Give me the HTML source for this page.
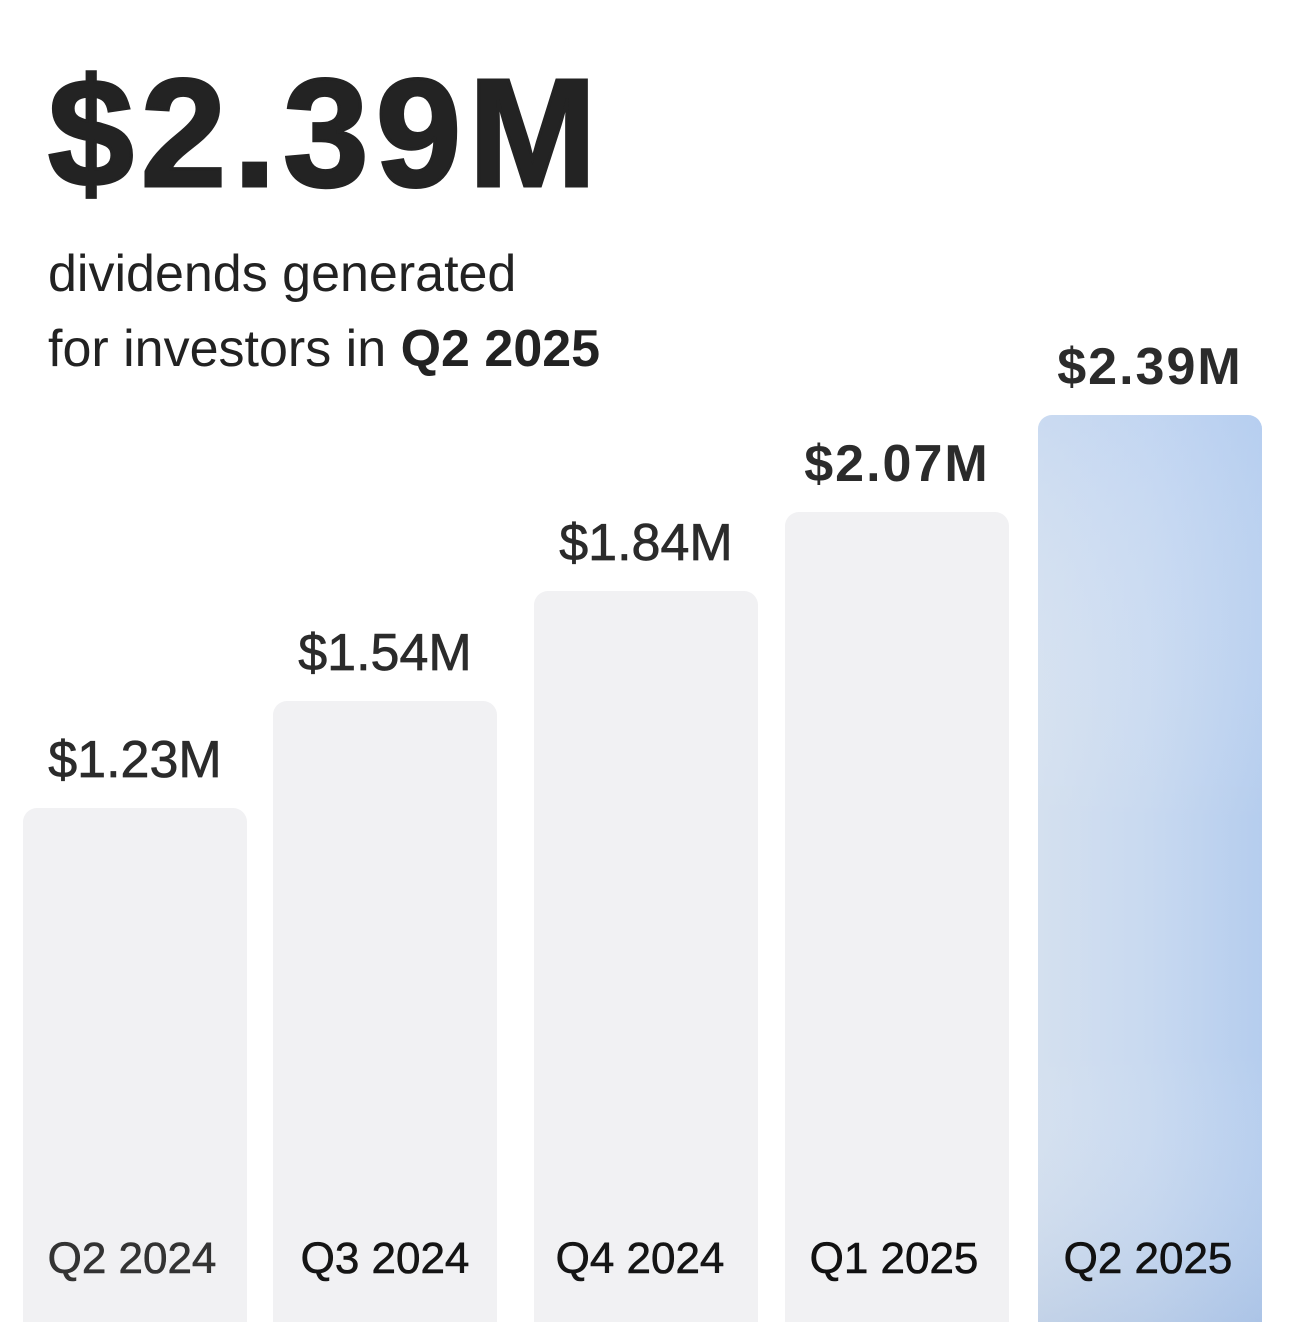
<!DOCTYPE html>
<html>
<head>
<meta charset="utf-8">
<style>
  html, body { margin:0; padding:0; background:#ffffff; }
  body { width:1290px; height:1322px; overflow:hidden; }
  svg { display:block; }
  text { font-family: "Liberation Sans", Arial, sans-serif; }
</style>
</head>
<body>
<svg width="1290" height="1322" viewBox="0 0 1290 1322" xmlns="http://www.w3.org/2000/svg">
  <defs>
    <linearGradient id="gh" x1="0" y1="0" x2="1" y2="0">
      <stop offset="0" stop-color="#d4e0ef"/>
      <stop offset="0.5" stop-color="#c8d9f0"/>
      <stop offset="1" stop-color="#b5cdee"/>
    </linearGradient>
    <linearGradient id="gv" gradientUnits="userSpaceOnUse" x1="0" y1="415" x2="0" y2="1322">
      <stop offset="0" stop-color="#b8d0f4" stop-opacity="0.35"/>
      <stop offset="0.45" stop-color="#ffffff" stop-opacity="0"/>
      <stop offset="0.7" stop-color="#ffffff" stop-opacity="0"/>
      <stop offset="1" stop-color="#8fa9d0" stop-opacity="0.25"/>
    </linearGradient>
  </defs>

  <rect width="1290" height="1322" fill="#ffffff"/>

  <!-- Title -->
  <text x="48" y="186" font-size="154" font-weight="700" fill="#232323" stroke="#232323" stroke-width="3" letter-spacing="7">$2.39M</text>

  <!-- Subtitle -->
  <text x="48" y="291" font-size="52" fill="#222222">dividends generated</text>
  <text x="48" y="366" font-size="52" fill="#222222">for investors in <tspan font-weight="700">Q2 2025</tspan></text>

  <!-- Bars -->
  <rect x="23" y="808" width="224" height="540" rx="14" fill="#f1f1f3"/>
  <rect x="273" y="701" width="224" height="650" rx="14" fill="#f1f1f3"/>
  <rect x="534" y="591" width="224" height="760" rx="14" fill="#f1f1f3"/>
  <rect x="785" y="512" width="224" height="840" rx="14" fill="#f1f1f3"/>
  <rect x="1038" y="415" width="224" height="940" rx="14" fill="url(#gh)"/>
  <rect x="1038" y="415" width="224" height="940" rx="14" fill="url(#gv)"/>

  <!-- Value labels -->
  <g font-size="52" fill="#2b2b2b" text-anchor="middle">
    <text x="135" y="777" stroke="#2b2b2b" stroke-width="0.7">$1.23M</text>
    <text x="385" y="670" stroke="#2b2b2b" stroke-width="0.7">$1.54M</text>
    <text x="646" y="560" stroke="#2b2b2b" stroke-width="0.7">$1.84M</text>
    <text x="897" y="481" font-weight="700" letter-spacing="2">$2.07M</text>
    <text x="1150" y="384" font-weight="700" letter-spacing="2">$2.39M</text>
  </g>

  <!-- Bottom labels -->
  <g font-size="44" text-anchor="middle">
    <text x="132" y="1273" fill="#333333" stroke="#333333" stroke-width="0.6">Q2 2024</text>
    <text x="385" y="1273" fill="#151515" stroke="#151515" stroke-width="0.6">Q3 2024</text>
    <text x="640" y="1273" fill="#151515" stroke="#151515" stroke-width="0.6">Q4 2024</text>
    <text x="894" y="1273" fill="#111111" stroke="#111111" stroke-width="0.6">Q1 2025</text>
    <text x="1148" y="1273" fill="#111111" stroke="#111111" stroke-width="0.6">Q2 2025</text>
  </g>
</svg>
</body>
</html>
